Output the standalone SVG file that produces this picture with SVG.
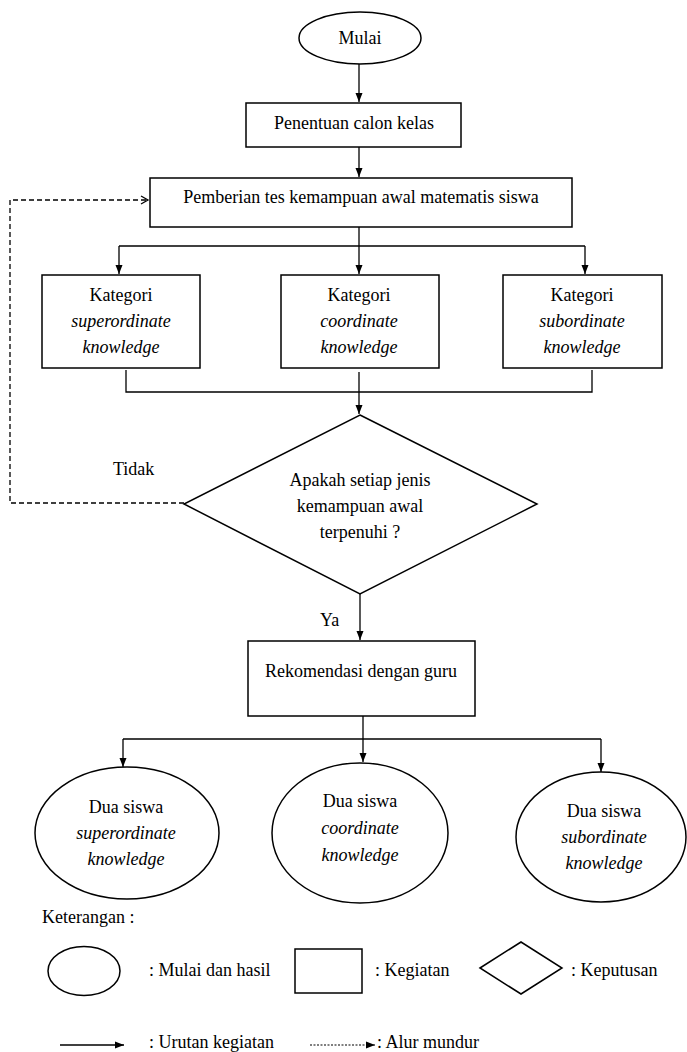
<svg xmlns="http://www.w3.org/2000/svg" width="687" height="1052" viewBox="0 0 687 1052">
<defs>
<marker id="ah" markerUnits="userSpaceOnUse" markerWidth="10" markerHeight="8" refX="9" refY="4" orient="auto"><path d="M0,0.5 L9,4 L0,7.5 Z" fill="#000"/></marker>
<marker id="open" markerUnits="userSpaceOnUse" markerWidth="10" markerHeight="10" refX="8" refY="5" orient="auto"><path d="M1,1 L8,5 L1,9" fill="none" stroke="#000" stroke-width="1.3"/></marker>
</defs>
<style>
.n{fill:#fff;stroke:#000;stroke-width:1.5}
.c{fill:none;stroke:#000;stroke-width:1.3}
.d{fill:none;stroke:#000;stroke-width:1.3;stroke-dasharray:5 3}
.dt{fill:none;stroke:#000;stroke-width:1.2;stroke-dasharray:2 1.5}
text{font-family:'Liberation Serif',serif !important;font-size:18px;fill:#000;text-anchor:middle}
.i{font-style:italic}
.l{text-anchor:start}
</style>
<rect width="687" height="1052" fill="#fff"/>
<g id="connectors">
<path class="c" d="M359,64 V102" marker-end="url(#ah)"/>
<path class="c" d="M359,147 V177" marker-end="url(#ah)"/>
<path class="c" d="M119,246 H585"/>
<path class="c" d="M119,246 V274" marker-end="url(#ah)"/>
<path class="c" d="M359,227 V274" marker-end="url(#ah)"/>
<path class="c" d="M585,246 V274" marker-end="url(#ah)"/>
<path class="c" d="M126,370 V392 H592 V370"/>
<path class="c" d="M359,372 V414" marker-end="url(#ah)"/>
<path class="d" d="M184,503 H10 V200 H148" marker-end="url(#open)"/>
<path class="c" d="M360,594 V640" marker-end="url(#ah)"/>
<path class="c" d="M123,739 H601"/>
<path class="c" d="M363,716 V762" marker-end="url(#ah)"/>
<path class="c" d="M123,739 V767" marker-end="url(#ah)"/>
<path class="c" d="M601,739 V772" marker-end="url(#ah)"/>
</g>
<g id="start"><ellipse class="n" cx="360" cy="38" rx="61" ry="26"/><text font-family="Liberation Serif" x="360" y="44">Mulai</text></g>
<g id="penentuan"><rect class="n" x="246" y="103" width="215" height="44"/><text font-family="Liberation Serif" x="354" y="129">Penentuan calon kelas</text></g>
<g id="pemberian"><rect class="n" x="150" y="178" width="422" height="49"/><text font-family="Liberation Serif" x="361" y="203">Pemberian tes kemampuan awal matematis siswa</text></g>
<g id="kat1"><rect class="n" x="42" y="275" width="158" height="93"/><text font-family="Liberation Serif" x="121" y="301">Kategori</text><text font-family="Liberation Serif" class="i" x="121" y="327">superordinate</text><text font-family="Liberation Serif" class="i" x="121" y="353">knowledge</text></g>
<g id="kat2"><rect class="n" x="281" y="275" width="158" height="93"/><text font-family="Liberation Serif" x="359" y="301">Kategori</text><text font-family="Liberation Serif" class="i" x="359" y="327">coordinate</text><text font-family="Liberation Serif" class="i" x="359" y="353">knowledge</text></g>
<g id="kat3"><rect class="n" x="503" y="275" width="159" height="93"/><text font-family="Liberation Serif" x="582" y="301">Kategori</text><text font-family="Liberation Serif" class="i" x="582" y="327">subordinate</text><text font-family="Liberation Serif" class="i" x="582" y="353">knowledge</text></g>
<g id="decision"><polygon class="n" points="360,415 537,504 360,594 184,504"/><text font-family="Liberation Serif" x="360" y="486">Apakah setiap jenis</text><text font-family="Liberation Serif" x="360" y="512">kemampuan awal</text><text font-family="Liberation Serif" x="360" y="538">terpenuhi ?</text></g>
<g id="label-tidak"><text font-family="Liberation Serif" class="l" x="113" y="475">Tidak</text></g>
<g id="label-ya"><text font-family="Liberation Serif" class="l" x="320" y="626">Ya</text></g>
<g id="rekomendasi"><rect class="n" x="248" y="641" width="227" height="75"/><text font-family="Liberation Serif" x="361" y="677">Rekomendasi dengan guru</text></g>
<g id="hasil1"><ellipse class="n" cx="127" cy="833" rx="92" ry="66"/><text font-family="Liberation Serif" x="126" y="813">Dua siswa</text><text font-family="Liberation Serif" class="i" x="126" y="839">superordinate</text><text font-family="Liberation Serif" class="i" x="126" y="865">knowledge</text></g>
<g id="hasil2"><ellipse class="n" cx="360" cy="833" rx="88" ry="70"/><text font-family="Liberation Serif" x="360" y="807">Dua siswa</text><text font-family="Liberation Serif" class="i" x="360" y="834">coordinate</text><text font-family="Liberation Serif" class="i" x="360" y="861">knowledge</text></g>
<g id="hasil3"><ellipse class="n" cx="601" cy="837" rx="85" ry="65"/><text font-family="Liberation Serif" x="604" y="817">Dua siswa</text><text font-family="Liberation Serif" class="i" x="604" y="843">subordinate</text><text font-family="Liberation Serif" class="i" x="604" y="869">knowledge</text></g>
<g id="legend">
<text font-family="Liberation Serif" class="l" x="42" y="923">Keterangan :</text>
<ellipse class="n" cx="84" cy="971" rx="36" ry="24.5"/>
<text font-family="Liberation Serif" class="l" x="149" y="976">: Mulai dan hasil</text>
<rect class="n" x="295" y="949" width="67" height="44"/>
<text font-family="Liberation Serif" class="l" x="375" y="976">: Kegiatan</text>
<polygon class="n" points="480,968 521,942 562,968 521,994"/>
<text font-family="Liberation Serif" class="l" x="571" y="976">: Keputusan</text>
<path class="c" d="M60,1045 H124" marker-end="url(#ah)"/>
<text font-family="Liberation Serif" class="l" x="149" y="1048">: Urutan kegiatan</text>
<path class="dt" d="M310,1045 H375" marker-end="url(#ah)"/>
<text font-family="Liberation Serif" class="l" x="377" y="1048">: Alur mundur</text>
</g>
</svg>
